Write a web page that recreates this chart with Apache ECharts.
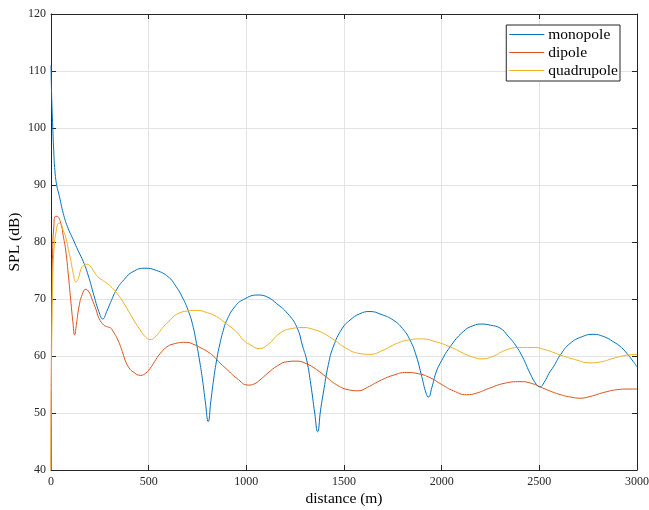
<!DOCTYPE html>
<html>
<head>
<meta charset="utf-8">
<script src="https://cdn.jsdelivr.net/npm/echarts@6/dist/echarts.min.js"></script>
<style>
  html, body { margin: 0; padding: 0; background: #fff; }
  #chart { width: 649px; height: 510px; }
</style>
</head>
<body>
<div id="chart"></div>
<script>
// Sound pressure level versus distance for three source types
const monopoleDist = [0, 3, 8, 14, 20, 29, 43, 63, 84, 114, 140, 165, 190, 220, 245, 265, 285, 305, 335, 374, 420, 481, 540, 600, 640, 674, 700, 725, 745, 760, 775, 790, 805, 818, 833, 848, 865, 882, 899, 940, 985, 1061, 1110, 1155, 1210, 1258, 1290, 1309, 1330, 1350, 1365, 1380, 1394, 1420, 1445, 1490, 1531, 1580, 1633, 1690, 1752, 1800, 1838, 1870, 1898, 1920, 1932, 1950, 1970, 1992, 2043, 2111, 2160, 2205, 2250, 2299, 2340, 2384, 2420, 2452, 2485, 2503, 2525, 2550, 2572, 2610, 2657, 2720, 2776, 2830, 2879, 2920, 2947, 2975, 3000];
const monopoleSPL = [111, 106, 101, 96, 92.5, 90, 88, 85, 82.7, 80.4, 78.4, 76.6, 74.2, 70.6, 67.8, 66.5, 67.8, 69.4, 71.6, 73.4, 74.8, 75.4, 75.0, 73.9, 72.2, 70.2, 68.2, 65.5, 62.2, 59.3, 56, 52, 48.5, 52, 56, 59.3, 62.2, 64.5, 66.2, 68.6, 69.9, 70.7, 70.3, 69.2, 67.5, 65.1, 61.5, 59.3, 55, 50, 46.7, 50.5, 53.5, 58.5, 61.6, 64.8, 66.3, 67.4, 67.8, 67.3, 66.3, 64.8, 62.8, 60, 56.4, 53.5, 52.8, 54.5, 57, 58.7, 61.6, 64.3, 65.3, 65.6, 65.4, 64.9, 63.5, 61.6, 59.4, 57.0, 55, 54.6, 55.4, 57.0, 58.1, 60.3, 62.2, 63.4, 63.8, 63.4, 62.5, 61.5, 60.5, 59.3, 58.1];

const dipoleDist = [0, 2, 5, 9, 14, 22, 30, 50, 63, 75, 88, 101, 112, 121, 130, 143, 160, 178, 195, 212, 230, 246, 271, 290, 306, 320, 340, 365, 379, 400, 421, 459, 485, 507, 530, 558, 590, 626, 691, 740, 763, 800, 831, 870, 899, 951, 1010, 1040, 1070, 1110, 1160, 1210, 1258, 1310, 1360, 1410, 1460, 1520, 1573, 1620, 1680, 1750, 1821, 1880, 1940, 2000, 2060, 2128, 2180, 2240, 2320, 2401, 2460, 2530, 2600, 2660, 2708, 2760, 2830, 2900, 2950, 3000];
const dipoleSPL = [40, 60, 72, 79, 82.5, 84.5, 84.5, 83.3, 81, 78.6, 74.5, 69.8, 66, 63.7, 65.5, 68.6, 70.8, 71.7, 71.2, 69.8, 68.2, 66.6, 65.4, 65.1, 64.9, 64.2, 63.0, 60.8, 59.3, 57.9, 57.2, 56.6, 57.0, 57.8, 59.0, 60.4, 61.5, 62.1, 62.4, 61.9, 61.5, 60.8, 60.0, 58.6, 57.7, 56.1, 54.9, 55.1, 55.8, 57.0, 58.3, 59.0, 59.1, 58.6, 57.6, 56.3, 55.0, 54.1, 53.9, 54.5, 55.6, 56.6, 57.1, 56.9, 56.2, 55.0, 53.9, 53.2, 53.5, 54.3, 55.2, 55.5, 55.2, 54.2, 53.3, 52.8, 52.6, 52.9, 53.6, 54.1, 54.2, 54.2];

const quadrupoleDist = [0, 2, 5, 8, 15, 29, 40, 50, 63, 75, 90, 101, 115, 127, 140, 152, 168, 183, 200, 220, 240, 263, 285, 306, 328, 357, 388, 420, 456, 485, 507, 530, 575, 610, 643, 700, 746, 800, 848, 900, 951, 985, 1019, 1066, 1110, 1172, 1230, 1292, 1340, 1394, 1450, 1514, 1570, 1633, 1700, 1770, 1830, 1898, 1960, 2043, 2110, 2160, 2205, 2260, 2333, 2400, 2469, 2530, 2606, 2680, 2759, 2820, 2879, 2940, 3000];
const quadrupoleSPL = [40, 55, 66, 72.2, 78.6, 82.4, 83.3, 83.2, 82, 80.9, 78.5, 76.8, 74.3, 73.0, 73.6, 75.1, 75.9, 76.1, 75.8, 74.8, 73.9, 73.3, 72.8, 72.2, 71.4, 70.1, 68.4, 66.5, 64.6, 63.3, 62.9, 63.2, 65.1, 66.3, 67.3, 67.9, 68.0, 67.6, 66.9, 65.6, 64.2, 62.8, 62.0, 61.3, 62.0, 64.0, 64.8, 65.0, 64.7, 64.0, 62.8, 61.3, 60.5, 60.3, 61.0, 62.2, 62.8, 63.0, 62.6, 61.6, 60.5, 59.8, 59.5, 59.9, 61.1, 61.5, 61.5, 61.1, 60.2, 59.4, 58.8, 59.0, 59.6, 60.1, 60.3];

const xTicks = [0, 500, 1000, 1500, 2000, 2500, 3000];
const yTicks = [40, 50, 60, 70, 80, 90, 100, 110, 120];

const seriesNames = ['monopole', 'dipole', 'quadrupole'];
const seriesColors = ['#0072BD', '#D95319', '#EDB120'];

const pairs = (xs, ys) => xs.map((x, i) => [x, ys[i]]);
const seriesData = [
  pairs(monopoleDist, monopoleSPL),
  pairs(dipoleDist, dipoleSPL),
  pairs(quadrupoleDist, quadrupoleSPL)
];

const FONT = "'Liberation Serif', 'DejaVu Serif', serif";
const INK = '#262626';

const chart = echarts.init(document.getElementById('chart'), null, { renderer: 'canvas' });

const tickStyle = { show: true, inside: true, length: 5, lineStyle: { color: INK, width: 1 } };
const plainNumber = v => String(v);

chart.setOption({
  animation: false,
  backgroundColor: '#ffffff',
  grid: { left: 51, right: 12, top: 14, bottom: 40, containLabel: false, outerBoundsMode: 'none' },
  legend: {
    data: seriesNames,
    orient: 'vertical',
    right: 29,
    top: 25,
    backgroundColor: '#ffffff',
    borderColor: INK,
    borderWidth: 1,
    borderRadius: 0,
    padding: [1, 2, 2, 3],
    itemGap: 1,
    itemWidth: 35,
    itemHeight: 1.2,
    icon: 'rect',
    textStyle: { fontFamily: FONT, fontSize: 15.5, lineHeight: 17, color: '#000', padding: [0, 0, 0, -1] }
  },
  xAxis: [
    {
      type: 'value',
      min: xTicks[0],
      max: xTicks[xTicks.length - 1],
      interval: xTicks[1] - xTicks[0],
      name: 'distance (m)',
      nameLocation: 'middle',
      nameGap: 21,
      nameMoveOverlap: false,
      nameTextStyle: { fontFamily: FONT, fontSize: 15.5, color: '#000' },
      axisLine: { show: true, onZero: false, lineStyle: { color: INK, width: 1 } },
      axisTick: tickStyle,
      axisLabel: { fontFamily: FONT, fontSize: 12, color: INK, margin: 6, formatter: plainNumber },
      splitLine: { show: true, lineStyle: { color: '#e3e3e3', width: 1 } }
    },
    {
      type: 'value',
      position: 'top',
      min: xTicks[0],
      max: xTicks[xTicks.length - 1],
      interval: xTicks[1] - xTicks[0],
      axisLine: { show: true, onZero: false, lineStyle: { color: INK, width: 1 } },
      axisTick: tickStyle,
      axisLabel: { show: false },
      splitLine: { show: false }
    }
  ],
  yAxis: [
    {
      type: 'value',
      min: yTicks[0],
      max: yTicks[yTicks.length - 1],
      interval: yTicks[1] - yTicks[0],
      name: 'SPL (dB)',
      nameLocation: 'middle',
      nameGap: 28,
      nameMoveOverlap: false,
      nameTextStyle: { fontFamily: FONT, fontSize: 15.5, color: '#000' },
      axisLine: { show: true, onZero: false, lineStyle: { color: INK, width: 1 } },
      axisTick: tickStyle,
      axisLabel: { fontFamily: FONT, fontSize: 12, color: INK, margin: 5, formatter: plainNumber },
      splitLine: { show: true, lineStyle: { color: '#e3e3e3', width: 1 } }
    },
    {
      type: 'value',
      position: 'right',
      min: yTicks[0],
      max: yTicks[yTicks.length - 1],
      interval: yTicks[1] - yTicks[0],
      axisLine: { show: true, onZero: false, lineStyle: { color: INK, width: 1 } },
      axisTick: tickStyle,
      axisLabel: { show: false },
      splitLine: { show: false }
    }
  ],
  series: seriesNames.map((name, i) => ({
    name: name,
    type: 'line',
    data: seriesData[i],
    showSymbol: false,
    smooth: 0.5,
    clip: true,
    color: seriesColors[i],
    lineStyle: { color: seriesColors[i], width: 1 },
    z: 3 + i
  }))
});
</script>
</body>
</html>
